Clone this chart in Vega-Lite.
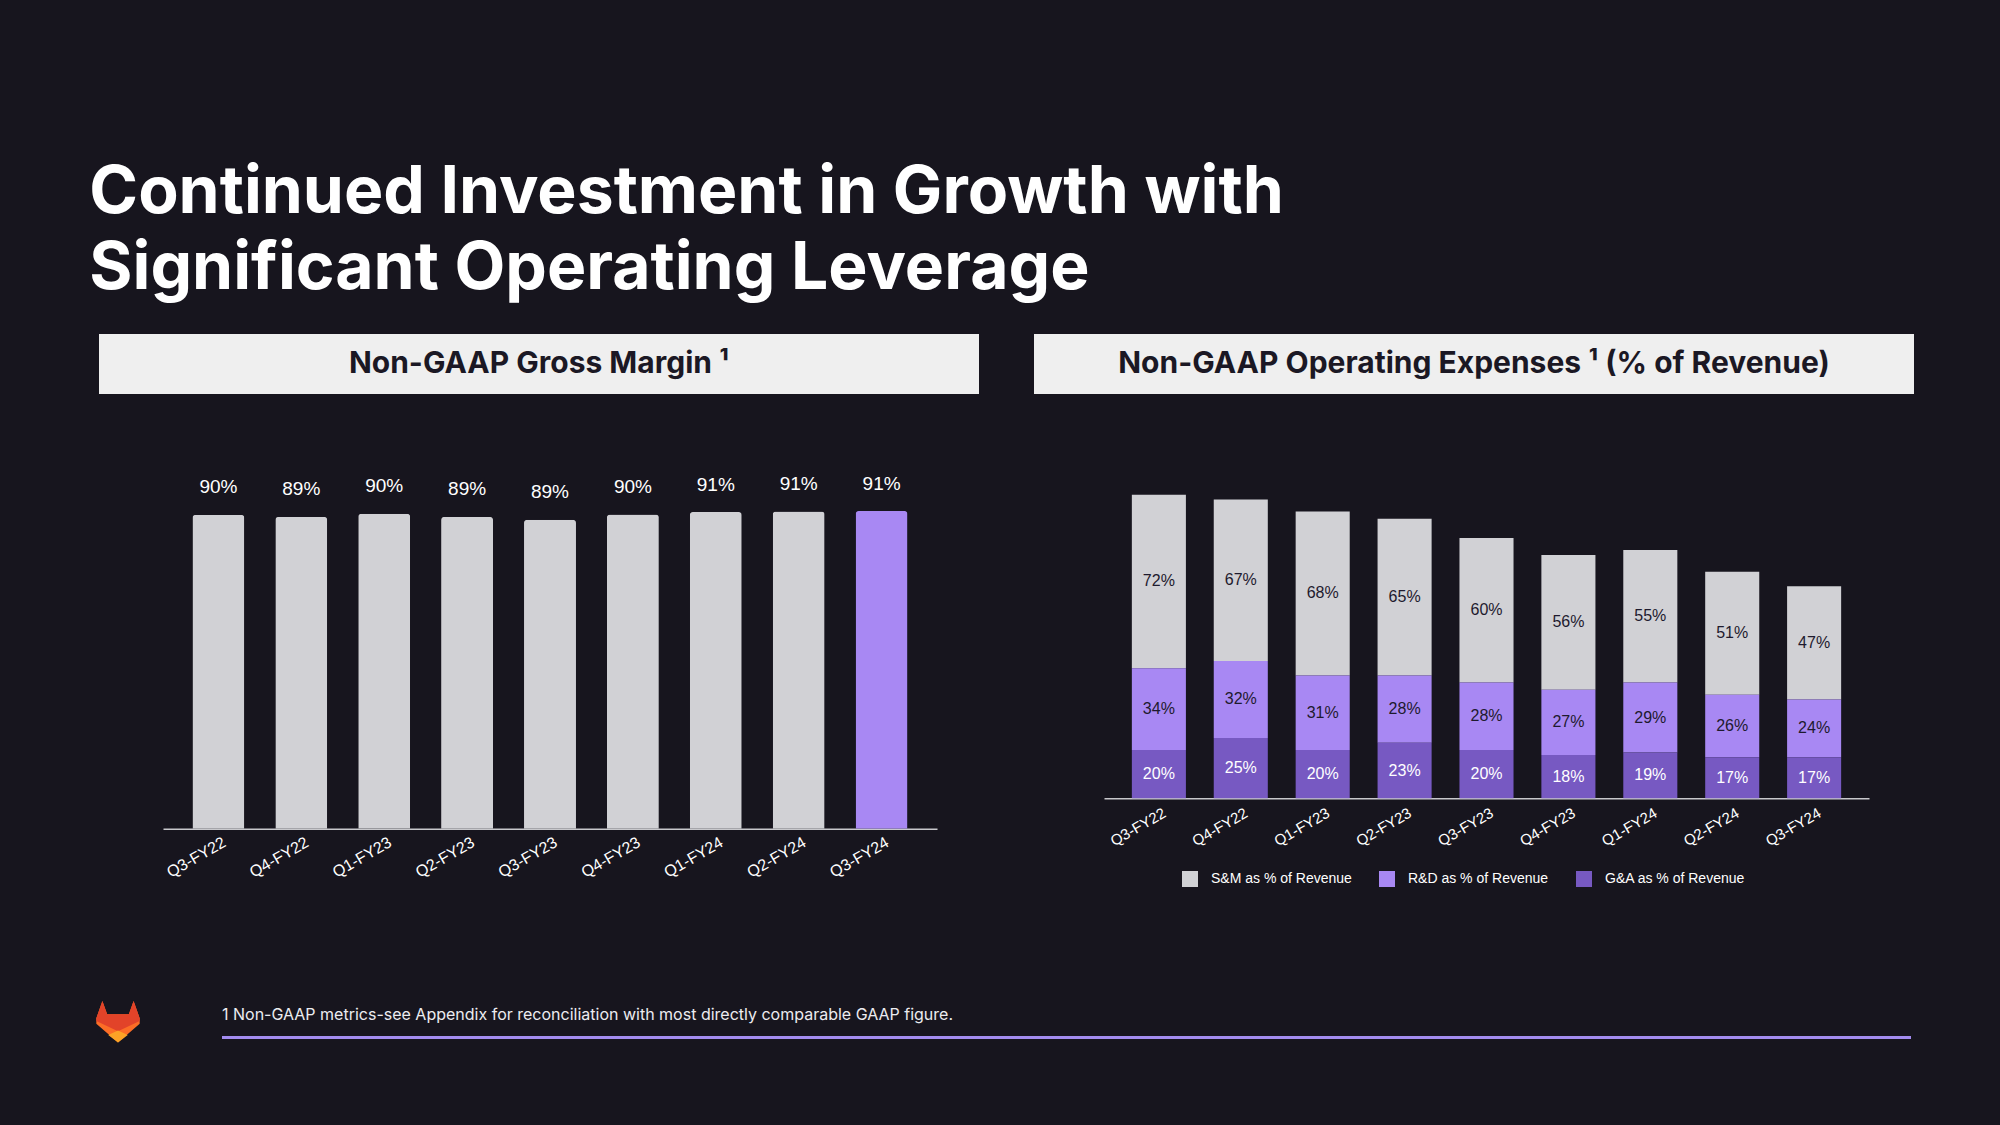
{
  "$schema": "https://vega.github.io/schema/vega-lite/v6.json",
  "background": "#17151e",
  "padding": {"left": 89, "top": 160, "right": 89, "bottom": 86},
  "autosize": {"type": "pad"},
  "config": {
    "view": {"stroke": null},
    "font": "Liberation Sans"
  },
  "title": {
    "text": ["Continued Investment in Growth with", "Significant Operating Leverage"],
    "anchor": "start",
    "font": "Inter",
    "fontSize": 66,
    "fontWeight": "bold",
    "color": "#ffffff",
    "lineHeight": 76,
    "offset": 31,
    "dx": -7
  },
  "resolve": {"scale": {"color": "independent", "shape": "independent"}, "legend": {"color": "independent", "shape": "independent"}},
  "bounds": "full",
  "spacing": 113.5,
  "vconcat": [
    {
      "bounds": "full",
      "spacing": 55,
      "resolve": {"scale": {"color": "independent"}, "legend": {"color": "independent"}},
      "hconcat": [
        {
          "bounds": "flush",
          "spacing": 86,
          "vconcat": [
            {
              "width": 880,
              "height": 60,
              "view": {"fill": "#efefef", "stroke": null},
              "data": {"values": [{"header": "Non-GAAP Gross Margin ¹"}]},
              "mark": {"type": "text", "font": "Inter", "fontSize": 30, "fontWeight": "bold", "color": "#1b1824", "align": "center", "baseline": "middle"},
              "encoding": {"text": {"field": "header", "type": "nominal"}}
            },
            {
              "width": 880,
              "height": 348.8,
              "data": {"values": [
                {"quarter": "Q3-FY22", "gm": 0.900},
                {"quarter": "Q4-FY22", "gm": 0.894},
                {"quarter": "Q1-FY23", "gm": 0.903},
                {"quarter": "Q2-FY23", "gm": 0.894},
                {"quarter": "Q3-FY23", "gm": 0.886},
                {"quarter": "Q4-FY23", "gm": 0.901},
                {"quarter": "Q1-FY24", "gm": 0.908},
                {"quarter": "Q2-FY24", "gm": 0.910},
                {"quarter": "Q3-FY24", "gm": 0.911}
              ]},
              "encoding": {
                "x": {
                  "field": "quarter", "type": "nominal", "sort": null,
                  "scale": {"range": [64, 838], "paddingInner": 0.373, "paddingOuter": 0.355},
                  "axis": {"title": null, "labelAngle": -30, "labelFontSize": 16, "labelColor": "#ffffff", "labelFont": "Liberation Sans", "domainColor": "#c8c8cc", "domainWidth": 1.5, "ticks": false, "labelPadding": 5, "labelOffset": 2, "grid": false}
                },
                "y": {"field": "gm", "type": "quantitative", "scale": {"domain": [0, 1]}, "axis": null}
              },
              "layer": [
                {
                  "mark": {"type": "bar", "cornerRadiusTopLeft": 3, "cornerRadiusTopRight": 3},
                  "encoding": {"color": {"condition": {"test": "datum.quarter === 'Q3-FY24'", "value": "#a888f3"}, "value": "#d1d1d5"}}
                },
                {
                  "mark": {"type": "text", "baseline": "alphabetic", "dy": -21.5, "fontSize": 19, "color": "#ffffff", "font": "Liberation Sans"},
                  "encoding": {"text": {"field": "gm", "type": "quantitative", "format": ".0%"}}
                }
              ]
            }
          ]
        },
        {
          "bounds": "flush",
          "spacing": 91,
          "resolve": {"scale": {"color": "independent"}, "legend": {"color": "independent"}},
          "vconcat": [
            {
              "width": 880,
              "height": 60,
              "view": {"fill": "#efefef", "stroke": null},
              "data": {"values": [{"header": "Non-GAAP Operating Expenses ¹ (% of Revenue)"}]},
              "mark": {"type": "text", "font": "Inter", "fontSize": 30, "fontWeight": "bold", "color": "#1b1824", "align": "center", "baseline": "middle"},
              "encoding": {"text": {"field": "header", "type": "nominal"}}
            },
            {
              "width": 880,
              "height": 313.3,
              "data": {"values": [
                {"quarter": "Q3-FY22", "cat": "S&M as % of Revenue", "pct": 0.72},
                {"quarter": "Q3-FY22", "cat": "R&D as % of Revenue", "pct": 0.34},
                {"quarter": "Q3-FY22", "cat": "G&A as % of Revenue", "pct": 0.20},
                {"quarter": "Q4-FY22", "cat": "S&M as % of Revenue", "pct": 0.67},
                {"quarter": "Q4-FY22", "cat": "R&D as % of Revenue", "pct": 0.32},
                {"quarter": "Q4-FY22", "cat": "G&A as % of Revenue", "pct": 0.25},
                {"quarter": "Q1-FY23", "cat": "S&M as % of Revenue", "pct": 0.68},
                {"quarter": "Q1-FY23", "cat": "R&D as % of Revenue", "pct": 0.31},
                {"quarter": "Q1-FY23", "cat": "G&A as % of Revenue", "pct": 0.20},
                {"quarter": "Q2-FY23", "cat": "S&M as % of Revenue", "pct": 0.65},
                {"quarter": "Q2-FY23", "cat": "R&D as % of Revenue", "pct": 0.28},
                {"quarter": "Q2-FY23", "cat": "G&A as % of Revenue", "pct": 0.23},
                {"quarter": "Q3-FY23", "cat": "S&M as % of Revenue", "pct": 0.60},
                {"quarter": "Q3-FY23", "cat": "R&D as % of Revenue", "pct": 0.28},
                {"quarter": "Q3-FY23", "cat": "G&A as % of Revenue", "pct": 0.20},
                {"quarter": "Q4-FY23", "cat": "S&M as % of Revenue", "pct": 0.56},
                {"quarter": "Q4-FY23", "cat": "R&D as % of Revenue", "pct": 0.27},
                {"quarter": "Q4-FY23", "cat": "G&A as % of Revenue", "pct": 0.18},
                {"quarter": "Q1-FY24", "cat": "S&M as % of Revenue", "pct": 0.55},
                {"quarter": "Q1-FY24", "cat": "R&D as % of Revenue", "pct": 0.29},
                {"quarter": "Q1-FY24", "cat": "G&A as % of Revenue", "pct": 0.19},
                {"quarter": "Q2-FY24", "cat": "S&M as % of Revenue", "pct": 0.51},
                {"quarter": "Q2-FY24", "cat": "R&D as % of Revenue", "pct": 0.26},
                {"quarter": "Q2-FY24", "cat": "G&A as % of Revenue", "pct": 0.17},
                {"quarter": "Q3-FY24", "cat": "S&M as % of Revenue", "pct": 0.47},
                {"quarter": "Q3-FY24", "cat": "R&D as % of Revenue", "pct": 0.24},
                {"quarter": "Q3-FY24", "cat": "G&A as % of Revenue", "pct": 0.17}
              ]},
              "encoding": {
                "x": {
                  "field": "quarter", "type": "nominal", "sort": null,
                  "scale": {"range": [70, 835], "paddingInner": 0.34, "paddingOuter": 0.34},
                  "axis": {"title": null, "labelAngle": -30, "labelFontSize": 15, "labelColor": "#ffffff", "labelFont": "Liberation Sans", "domainColor": "#c8c8cc", "domainWidth": 1.5, "ticks": false, "labelPadding": 7, "labelOffset": 2, "grid": false}
                },
                "order": {"field": "cat", "sort": "ascending"}
              },
              "layer": [
                {
                  "mark": {"type": "bar"},
                  "encoding": {
                    "y": {"field": "pct", "type": "quantitative", "stack": "zero", "scale": {"domain": [0, 1.3]}, "axis": null},
                    "color": {
                      "field": "cat", "type": "nominal",
                      "scale": {"domain": ["S&M as % of Revenue", "R&D as % of Revenue", "G&A as % of Revenue"], "range": ["#d1d1d5", "#a888f3", "#7759c2"]},
                      "legend": {"orient": "none", "legendX": 148, "legendY": 386, "direction": "horizontal", "title": null, "symbolType": "square", "symbolSize": 256, "symbolStrokeWidth": 0, "symbolOpacity": 1, "labelFontSize": 14, "labelColor": "#ffffff", "labelFont": "Liberation Sans", "labelOffset": 13, "columnPadding": 27, "padding": 0, "labelLimit": 300}
                    }
                  }
                },
                {
                  "mark": {"type": "text", "baseline": "middle", "fontSize": 16, "font": "Liberation Sans"},
                  "encoding": {
                    "y": {"field": "pct", "type": "quantitative", "stack": "zero", "bandPosition": 0.5},
                    "text": {"field": "pct", "type": "quantitative", "format": ".0%"},
                    "color": {"condition": {"test": "indexof(datum.cat, 'G&A') === 0", "value": "#ffffff"}, "value": "#1e1a2e"}
                  }
                }
              ]
            }
          ]
        }
      ]
    },
    {
      "bounds": "flush",
      "spacing": 85,
      "resolve": {"scale": {"color": "independent", "shape": "independent"}},
      "hconcat": [
        {
          "width": 38,
          "height": 42,
          "data": {"values": [{"part": "base"}, {"part": "top"}, {"part": "chin"}]},
          "mark": {"type": "point", "filled": true, "size": 1880, "opacity": 1, "strokeWidth": 0},
          "encoding": {
            "shape": {"field": "part", "type": "nominal", "scale": {"domain": ["base", "top", "chin"], "range": [
              "M-0.72,-0.95L-0.5,-0.34L0.5,-0.34L0.72,-0.95L1,-0.15L1,0.1L0,0.97L-1,0.1L-1,-0.15Z",
              "M-0.72,-0.95L-0.5,-0.34L0.5,-0.34L0.72,-0.95L1,-0.15L1,-0.02L0,0.45L-1,-0.02L-1,-0.15Z",
              "M0,0.42L0.45,0.62L0,0.97L-0.45,0.62Z"
            ]}, "legend": null},
            "color": {"field": "part", "type": "nominal", "scale": {"domain": ["base", "top", "chin"], "range": ["#fc6d26", "#e24329", "#fca326"]}, "legend": null}
          }
        },
        {
          "width": 1689,
          "height": 37,
          "data": {"values": [{"note": "1 Non-GAAP metrics-see Appendix for reconciliation with most directly comparable GAAP figure."}]},
          "layer": [
            {
              "mark": {"type": "rule", "color": "#a38cf0", "strokeWidth": 3},
              "encoding": {"y": {"datum": 0, "type": "quantitative", "scale": {"domain": [0, 1]}, "axis": null}}
            },
            {
              "mark": {"type": "text", "align": "left", "baseline": "middle", "font": "Inter", "fontSize": 16, "color": "#ececf0"},
              "encoding": {
                "x": {"datum": 0, "type": "quantitative", "scale": {"domain": [0, 1]}, "axis": null},
                "y": {"datum": 0.595, "type": "quantitative", "axis": null},
                "text": {"field": "note", "type": "nominal"}
              }
            }
          ]
        }
      ]
    }
  ]
}
